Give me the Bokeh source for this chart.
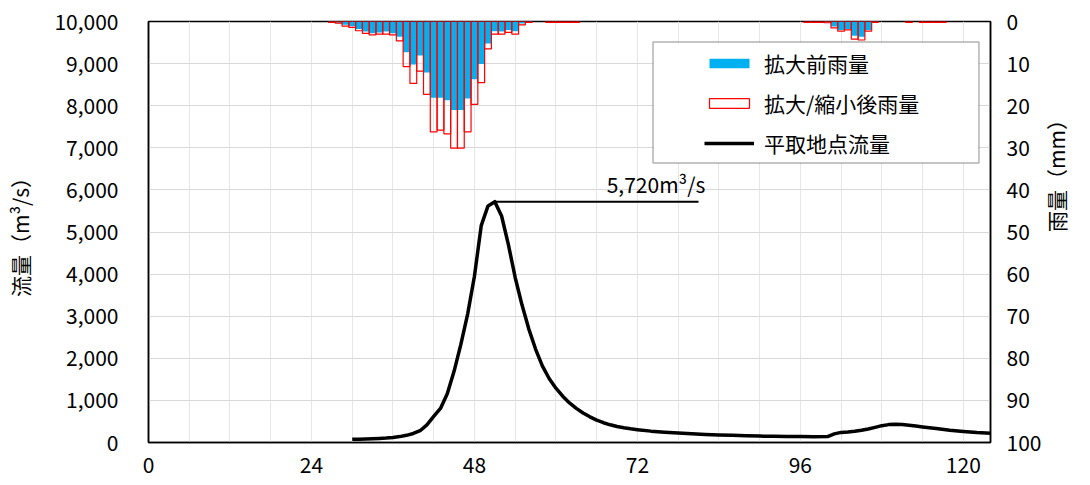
import math
from bokeh.plotting import figure
from bokeh.models import (Range1d, LinearAxis, FixedTicker, Legend, LegendItem,
                          NumeralTickFormatter, BoxAnnotation, Label)
from bokeh.embed import file_html
from bokeh.resources import INLINE

# ---------------- data ----------------
x_ticks = [0, 24, 48, 72, 96, 120]
flow_ticks = [0, 1000, 2000, 3000, 4000, 5000, 6000, 7000, 8000, 9000, 10000]
rain_ticks = [0, 10, 20, 30, 40, 50, 60, 70, 80, 90, 100]

rain_hours = [27, 28, 29, 30, 31, 32, 33, 34, 35, 36, 37, 38, 39, 40, 41, 42, 43, 44,
              45, 46, 47, 48, 49, 50, 51, 52, 53, 54, 55, 56, 59, 60, 61, 62, 63,
              97, 98, 99, 100, 101, 102, 103, 104, 105, 106, 107, 112, 114, 115, 116, 117]
rain_before = [0.2, 0.3, 0.8, 1.1, 1.8, 2.4, 2.8, 2.6, 2.4, 2.8, 3.6, 7.3, 10.2, 8.1, 12.1, 18.1, 18.1, 18.7,
               21.0, 21.0, 18.3, 13.7, 10.1, 5.2, 2.3, 2.4, 2.0, 2.3, 0.5, 0.1, 0.0, 0.0, 0.0, 0.0, 0.0,
               0.0, 0.0, 0.0, 0.2, 1.2, 2.0, 1.8, 3.4, 3.6, 2.0, 0.1, 0.0, 0.0, 0.0, 0.0, 0.0]
rain_after = [0.2, 0.4, 1.1, 1.4, 2.2, 2.8, 3.2, 3.0, 3.0, 3.2, 4.6, 10.7, 14.7, 11.8, 17.3, 26.2, 25.8, 26.7,
              30.1, 30.1, 26.2, 19.7, 14.5, 6.5, 3.0, 3.0, 2.6, 3.0, 0.8, 0.2, 0.2, 0.2, 0.2, 0.2, 0.2,
              0.2, 0.2, 0.2, 0.3, 1.5, 2.3, 2.0, 4.2, 4.4, 2.3, 0.2, 0.2, 0.2, 0.2, 0.2, 0.2]

flow_hours = [30, 31, 32, 33, 34, 35, 36, 37, 38, 39, 40, 41, 42, 43, 44, 45, 46, 47, 48, 49,
              50, 51, 52, 53, 54, 55, 56, 57, 58, 59, 60, 61, 62, 63, 64, 65, 66, 67, 68, 69,
              70, 71, 72, 74, 76, 78, 80, 82, 84, 86, 88, 90, 92, 94, 96, 98, 100, 101, 102,
              103, 104, 105, 106, 107, 108, 109, 110, 111, 112, 113, 114, 116, 118, 120, 122, 124]
flow_values = [75, 78, 82, 88, 95, 105, 120, 140, 170, 215, 280, 420, 620, 810, 1160, 1690, 2330, 3050, 3950, 5150,
               5620, 5720, 5380, 4700, 3920, 3270, 2700, 2220, 1820, 1520, 1290, 1100, 940, 810, 700, 610, 530, 470, 420, 380,
               350, 325, 305, 270, 245, 225, 205, 190, 180, 170, 160, 152, 147, 143, 140, 138, 140, 205, 240,
               250, 265, 290, 320, 360, 400, 425, 432, 425, 410, 390, 370, 330, 290, 260, 235, 220]

annot_end_hour = 81

# ---------------- styling ----------------
FONT = "Noto Sans CJK JP"
FS = "21px"

p = figure(width=1090, height=485, output_backend="svg", toolbar_location=None,
           x_range=Range1d(0, 124), y_range=Range1d(0, 10000),
           min_border_left=148, min_border_right=100, min_border_top=21, min_border_bottom=43,
           background_fill_color="white", border_fill_color="white")
p.extra_y_ranges = {"rain": Range1d(start=100, end=0)}

p.outline_line_color = "black"
p.outline_line_width = 1.5

# grids
p.xgrid.ticker = FixedTicker(ticks=list(range(0, 125, 6)))
p.xgrid.grid_line_color = "#E6E6E6"
p.xgrid.grid_line_width = 1
p.ygrid.ticker = FixedTicker(ticks=flow_ticks)
p.ygrid.grid_line_color = "#D9D9D9"
p.ygrid.grid_line_width = 1

# axes
p.xaxis.ticker = FixedTicker(ticks=x_ticks)
p.yaxis.ticker = FixedTicker(ticks=flow_ticks)
p.yaxis.formatter = NumeralTickFormatter(format="0,0")
p.yaxis.axis_label = "流量（m³/s）"

rax = LinearAxis(y_range_name="rain", ticker=FixedTicker(ticks=rain_ticks))
p.add_layout(rax, "right")

for ax in [p.xaxis[0], p.yaxis[0], rax]:
    ax.axis_line_color = "black"
    ax.axis_line_width = 1.5
    ax.major_tick_line_color = None
    ax.minor_tick_line_color = None
    ax.major_tick_out = 0
    ax.major_tick_in = 0
    ax.major_label_text_font = FONT
    ax.major_label_text_font_size = FS
    ax.major_label_text_color = "black"
    ax.axis_label_text_font = FONT
    ax.axis_label_text_font_size = FS
    ax.axis_label_text_font_style = "normal"
    ax.axis_label_text_color = "black"

p.xaxis.major_label_standoff = 14
p.yaxis.major_label_standoff = 30
p.yaxis.axis_label_standoff = 16
rax.major_label_standoff = 16

# right axis title, reading bottom-to-top like the reference
if "axis_label_orientation" in rax.properties():
    rax.axis_label = "雨量（mm）"
    rax.axis_label_orientation = math.pi / 2
    rax.axis_label_standoff = 12
else:
    p.add_layout(Label(x=1066, y=258, x_units="screen", y_units="screen",
                       text="雨量（mm）", angle=math.pi / 2,
                       text_align="center", text_baseline="middle",
                       text_font=FONT, text_font_size=FS, text_color="black",
                       level="overlay"))

# rain bars
r_before = p.vbar(x=rain_hours, top=rain_before, bottom=0, width=1.0, fill_color="#00B0F0",
                  line_color=None, y_range_name="rain")
r_after = p.vbar(x=rain_hours, top=rain_after, bottom=0, width=1.0, fill_color=None,
                 line_color="#FF0000", line_width=1.2, y_range_name="rain")

# hydrograph
r_flow = p.line(flow_hours, flow_values, line_color="black", line_width=3.5, line_join="round")

# peak annotation
peak = max(flow_values)
peak_hour = flow_hours[flow_values.index(peak)]
p.line([peak_hour, annot_end_hour], [peak, peak], line_color="black", line_width=2)
p.add_layout(Label(x=annot_end_hour + 1, y=peak + 430, text=f"{peak:,}m³/s",
                   text_align="right", text_baseline="alphabetic",
                   text_font=FONT, text_font_size=FS, text_color="black"))

# legend frame + legend
frame = BoxAnnotation(left=74.3, right=122.3, top=9512, bottom=6638,
                      fill_color="white", fill_alpha=1.0, line_color="black", line_width=1.5,
                      level="annotation")
p.add_layout(frame)

legend = Legend(items=[LegendItem(label="拡大前雨量", renderers=[r_before]),
                       LegendItem(label="拡大/縮小後雨量", renderers=[r_after]),
                       LegendItem(label="平取地点流量", renderers=[r_flow])],
                location=(556, 283), padding=0, spacing=8, glyph_width=50, glyph_height=12,
                label_height=32, label_standoff=10,
                label_text_font=FONT, label_text_font_size=FS, label_text_color="black",
                border_line_alpha=0, background_fill_alpha=0)
p.add_layout(legend)

open("out.html", "w").write(file_html(p, INLINE))
